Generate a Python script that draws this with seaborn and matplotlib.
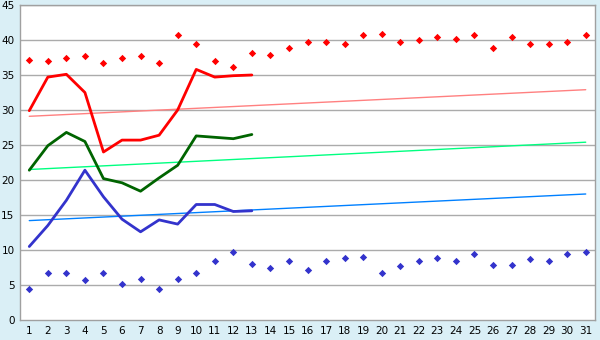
import matplotlib
matplotlib.use("Agg")
import matplotlib.pyplot as plt
import seaborn as sns
import numpy as np
import pandas as pd

days = list(range(1, 32))
red_max = [37.2, 37.0, 37.4, 37.7, 36.7, 37.5, 37.7, 36.7, 40.7, 39.4,
           37.0, 36.1, 38.2, 37.9, 38.9, 39.7, 39.7, 39.5, 40.7, 40.9,
           39.7, 40.0, 40.4, 40.2, 40.7, 38.9, 40.5, 39.5, 39.5, 39.7, 40.7]
blue_min = [4.5, 6.7, 6.7, 5.7, 6.7, 5.2, 5.8, 4.4, 5.8, 6.7,
            8.4, 9.7, 8.0, 7.4, 8.4, 7.1, 8.4, 8.8, 9.0, 6.7,
            7.7, 8.5, 8.8, 8.4, 9.4, 7.8, 7.8, 8.7, 8.4, 9.4, 9.7]
line_days = list(range(1, 14))
red_line = [29.9, 34.7, 35.1, 32.5, 24.0, 25.7, 25.7, 26.4, 30.0, 35.8, 34.7, 34.9, 35.0]
green_line = [21.4, 24.9, 26.8, 25.5, 20.2, 19.6, 18.4, 20.3, 22.1, 26.3, 26.1, 25.9, 26.5]
blue_line = [10.5, 13.5, 17.1, 21.4, 17.6, 14.4, 12.6, 14.3, 13.7, 16.5, 16.5, 15.5, 15.6]
trend_days = [1, 31]
red_trend = [29.1, 32.9]
green_trend = [21.5, 25.4]
blue_trend = [14.2, 18.0]
yticks = list(range(0, 50, 5))

sns.set_theme(style="white")
plt.rcParams['font.family'] = ['DejaVu Sans']

fig = plt.figure(figsize=(6, 3.4), dpi=100)
fig.patch.set_facecolor("#DAEFF6")
ax = fig.add_axes([20/600, 1-320/340, 575/600, 315/340])
ax.set_facecolor("white")

for yv in yticks[1:]:
    ax.axhline(yv, color="#ABABAB", lw=1, zorder=0)

sns.lineplot(x=trend_days, y=red_trend, ax=ax, color="#FF8080", lw=1, zorder=2)
sns.lineplot(x=trend_days, y=green_trend, ax=ax, color="#00FF80", lw=1, zorder=2)
sns.lineplot(x=trend_days, y=blue_trend, ax=ax, color="#0080FF", lw=1, zorder=2)

sns.lineplot(x=line_days, y=red_line, ax=ax, color="#FF0000", lw=2, zorder=3)
sns.lineplot(x=line_days, y=green_line, ax=ax, color="#006400", lw=2, zorder=3)
sns.lineplot(x=line_days, y=blue_line, ax=ax, color="#3333CC", lw=2, zorder=3)

sns.scatterplot(x=days, y=red_max, ax=ax, color="#FF0000", marker="D", s=14,
                linewidth=0, zorder=4)
sns.scatterplot(x=days, y=blue_min, ax=ax, color="#3333CC", marker="D", s=14,
                linewidth=0, zorder=4)

ax.set_xlim(0.5, 31.5)
ax.set_ylim(0, 45)
ax.set_xticks(days)
ax.set_xticklabels([str(d) for d in days])
ax.set_yticks(yticks)
ax.set_yticklabels([str(v) for v in yticks])
ax.tick_params(axis="both", labelsize=7.5, colors="#000000", length=3, width=1,
               direction="out", color="#888888", pad=1)
ax.tick_params(axis="x", pad=1.5)
for s in ax.spines.values():
    s.set_color("#A0A0A0")
    s.set_linewidth(1)
ax.set_xlabel("")
ax.set_ylabel("")
if ax.get_legend():
    ax.get_legend().remove()

fig.savefig("out.png", dpi=100, facecolor=fig.get_facecolor())
